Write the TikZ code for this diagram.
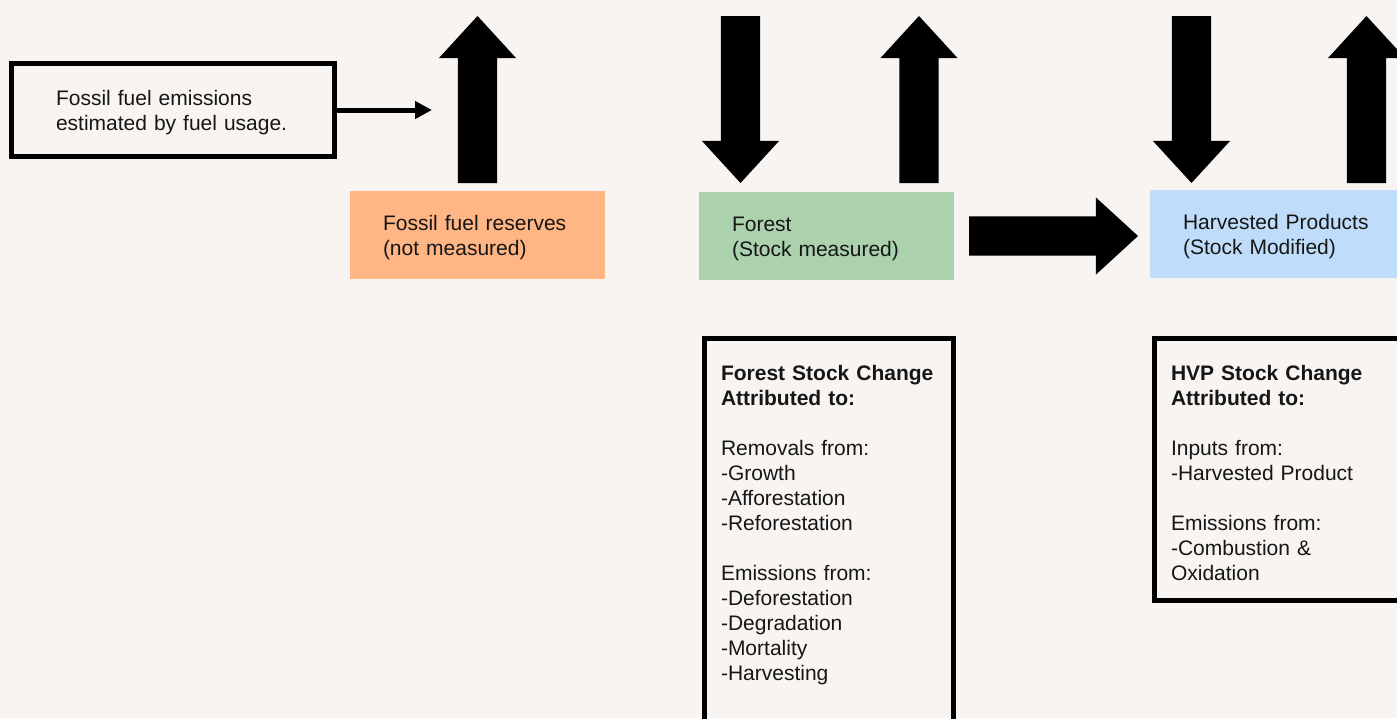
\documentclass[tikz,border=0pt]{standalone}
\usepackage{xcolor}
\usepackage{fontspec}
\setmainfont{Liberation Sans}
\usepackage{tikz}
\usetikzlibrary{shapes, arrows.meta, positioning}

\definecolor{paper}{HTML}{F7F4F1}
\definecolor{ink}{HTML}{161616}
\definecolor{reservefill}{HTML}{FFB584}
\definecolor{forestfill}{HTML}{ABD1AD}
\definecolor{productfill}{HTML}{BFDDFB}

\begin{document}
\begin{tikzpicture}[x=1pt, y=-1pt, text=ink, font=\fontsize{21}{25}\selectfont]
        \useasboundingbox (0,0) rectangle (1397,718);
        \clip (0,0) rectangle (1397,718);
        \fill[paper] (0,0) rectangle (1397,718);

        % the three stocks
        \begin{scope}[every node/.style={anchor=north west, align=left, outer sep=0pt, inner xsep=33pt, inner ysep=0pt,
            text width=189pt, text height=39pt, text depth=49pt, minimum width=255pt}]
          \node[fill=reservefill] (reserves) at (350,191) {Fossil fuel reserves\\(not measured)};
          \node[fill=forestfill] (forest) at (699,192) {Forest\\(Stock measured)};
          \node[fill=productfill, text width=210pt] (products) at (1150,190) {Harvested Products\\(Stock Modified)};
        \end{scope}

        % outlined text boxes
        \begin{scope}[every node/.style={draw=black, line width=5pt, anchor=north west, align=left, outer sep=0pt, inner ysep=0pt}]
          \node[text width=234pt, inner xsep=44.5pt, minimum width=323pt, text height=41.5pt, text depth=51.5pt] (emissions) at (11.5,63.5)
            {Fossil fuel emissions\\estimated by fuel usage.};
          \node[text width=216pt, inner xsep=16.5pt, text height=41.5pt, text depth=380pt] (forestchange) at (704.5,338.5)
            {\textbf{Forest Stock Change}\\\textbf{Attributed to:}\\[25pt]
             Removals from:\\-Growth\\-Afforestation\\-Reforestation\\[25pt]
             Emissions from:\\-Deforestation\\-Degradation\\-Mortality\\-Harvesting};
          \node[text width=216pt, inner xsep=16.5pt, text height=41.5pt, text depth=220.5pt] (productchange) at (1154.5,338.5)
            {\textbf{HVP Stock Change}\\\textbf{Attributed to:}\\[25pt]
             Inputs from:\\-Harvested Product\\[25pt]
             Emissions from:\\-Combustion \&\\Oxidation};
        \end{scope}

        % flows in and out of the stocks
        \begin{scope}[every node/.style={single arrow, fill=black, inner sep=19.5pt, outer sep=0pt, minimum height=167pt,
            single arrow head extend=19pt, single arrow tip angle=85, single arrow head indent=0pt}]
          \node[shape border rotate=90, anchor=tip] (fossilout) at (477.5,16) {};
          \node[shape border rotate=270, anchor=tip] (forestin) at (740.5,183) {};
          \node[shape border rotate=90, anchor=tip] (forestout) at (919,16) {};
          \node[shape border rotate=270, anchor=tip] (productin) at (1191.5,183) {};
          \node[shape border rotate=90, anchor=tip] (productout) at (1366.5,16) {};
          \node[minimum height=169pt, right=15pt of forest, anchor=tail] (harvest) {};
        \end{scope}

        \coordinate (fueltip) at (432,110);
        \draw[line width=5pt, -{Triangle[length=17pt, width=17pt]}] (emissions.east) -- (fueltip);
      \end{tikzpicture}
\end{document}
